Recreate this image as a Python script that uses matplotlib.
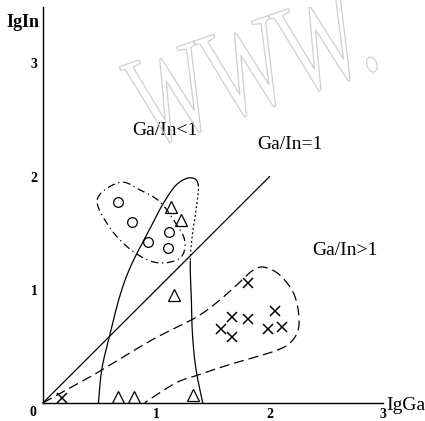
import numpy as np
import matplotlib
matplotlib.use("Agg")
import matplotlib.pyplot as plt
from matplotlib.textpath import TextPath
from matplotlib.path import Path
from matplotlib.patches import PathPatch
from matplotlib.font_manager import FontProperties
from matplotlib.transforms import Affine2D

# ── data (lgGa, lgIn) ─────────────────────────────────────────────────────────
circle_x = [0.66, 0.79, 0.93, 1.11, 1.10]
circle_y = [1.78, 1.60, 1.42, 1.51, 1.37]

tri_x = [1.13, 1.22, 1.16, 0.66, 0.80, 1.32]
tri_y = [1.73, 1.62, 0.95, 0.05, 0.05, 0.07]

cross_x = [1.81, 1.67, 1.81, 2.05, 1.57, 1.67, 1.99, 2.11, 0.17]
cross_y = [1.06, 0.76, 0.74, 0.81, 0.65, 0.58, 0.65, 0.67, 0.04]

ratio_line_x = [0, 2]          # Ga/In = 1
ratio_line_y = [0, 2]

# outline of the circle group (dash-dot loop)
circle_env = [(0.48, 1.80), (0.68, 1.95), (0.86, 1.88), (1.03, 1.78), (1.15, 1.62),
              (1.25, 1.44), (1.21, 1.28), (1.00, 1.24), (0.78, 1.35), (0.59, 1.55)]

# outline of the triangle group (horn rising from the lgGa axis)
tri_env = [(0.49, 0.00), (0.52, 0.30), (0.59, 0.60), (0.68, 0.95), (0.78, 1.22),
           (0.94, 1.53), (1.06, 1.76), (1.18, 1.93), (1.30, 1.99), (1.37, 1.93),
           (1.35, 1.70), (1.32, 1.50), (1.30, 1.25), (1.31, 0.90), (1.32, 0.60),
           (1.35, 0.30), (1.41, 0.00)]

# outline of the cross group (dashed tongue)
cross_env = [(0.00, 0.00), (0.45, 0.25), (0.95, 0.55), (1.34, 0.75), (1.55, 0.90),
             (1.74, 1.07), (1.85, 1.17), (1.95, 1.20), (2.09, 1.13), (2.22, 0.95),
             (2.26, 0.70), (2.20, 0.55), (2.05, 0.46), (1.65, 0.34), (1.38, 0.25),
             (1.18, 0.18), (0.94, 0.03), (0.90, 0.00)]

ticks = [1, 2, 3]


def smooth(pts, n=16, closed=False):
    """Catmull-Rom through the outline points."""
    p = np.asarray(pts, float)
    if closed:
        P = np.vstack([p[-1], p, p[0], p[1]])
    else:
        P = np.vstack([p[0], p, p[-1]])
    t = np.linspace(0, 1, n, endpoint=False)[:, None]
    out = []
    for i in range(1, len(P) - 2):
        p0, p1, p2, p3 = P[i - 1], P[i], P[i + 1], P[i + 2]
        out.append(0.5 * (2 * p1 + (-p0 + p2) * t
                          + (2 * p0 - 5 * p1 + 4 * p2 - p3) * t ** 2
                          + (-p0 + 3 * p1 - 3 * p2 + p3) * t ** 3))
    out.append(P[-2][None])
    return np.vstack(out)


SERIF = "Liberation Serif"
fig = plt.figure(figsize=(4.25, 4.21), dpi=100)
ax = fig.add_axes([0.101, 0.043, 0.80, 0.9406])
ax.set_facecolor("none")
ax.set_xlim(0, 3)
ax.set_ylim(0, 3.5)

# watermark: tall, narrow outlined "WWW." tilted up to the right (pixel coords)
tp = TextPath((0, 0), "WWW.", size=1, prop=FontProperties(family=SERIF))
v = tp.vertices.copy()
v = (v - v.min(axis=0)) / (v[:, 1].max() - v[:, 1].min())   # unit cap height
wm = PathPatch(Path(v, tp.codes), facecolor="none", edgecolor="#cfcfcf", lw=0.9,
               transform=Affine2D().scale(56, 88).rotate_deg(19).translate(148, 421 - 150))
fig.add_artist(wm)

kw = dict(color="black", lw=0.9, clip_on=False)
ax.plot(ratio_line_x, ratio_line_y, **kw)

e = smooth(circle_env, closed=True)
ax.plot(e[:, 0], e[:, 1], ls=(0, (6, 3, 1, 3)), **kw)

h = smooth(tri_env)
n = 16
ax.plot(h[:9 * n + 1, 0], h[:9 * n + 1, 1], **kw)
ax.plot(h[9 * n:12 * n + 1, 0], h[9 * n:12 * n + 1, 1], ls=(0, (1.5, 2)), **kw)
ax.plot(h[12 * n:, 0], h[12 * n:, 1], **kw)

c = smooth(cross_env)
ax.plot(c[:, 0], c[:, 1], ls=(0, (8, 4)), **kw)

ax.plot(circle_x, circle_y, "o", mfc="none", mec="black", ms=7, mew=0.9)
ax.plot(tri_x, tri_y, "^", mfc="none", mec="black", ms=8, mew=0.9)
ax.plot(cross_x, cross_y, "x", color="black", ms=7, mew=1.1)

for s in ["top", "right"]:
    ax.spines[s].set_visible(False)
for s in ["left", "bottom"]:
    ax.spines[s].set_linewidth(1.0)

ax.set_xticks(ticks)
ax.set_yticks(ticks)
ax.set_xticklabels([str(t) for t in ticks], fontfamily=SERIF, fontweight="bold", fontsize=10)
ax.set_yticklabels([str(t) for t in ticks], fontfamily=SERIF, fontweight="bold", fontsize=10)
ax.tick_params(length=0, pad=4)
ax.text(-0.06, -0.03, "0", ha="right", va="top", fontfamily=SERIF, fontweight="bold", fontsize=10)

ax.text(-0.32, 3.36, "IgIn", ha="left", va="center", fontfamily=SERIF, fontweight="bold", fontsize=13)
ax.text(3.03, -0.02, "IgGa", ha="left", va="center", fontfamily=SERIF, fontsize=14)

ax.text(0.79, 2.41, "Ga/In<1", ha="left", va="center", fontfamily=SERIF, fontsize=14)
ax.text(1.89, 2.28, "Ga/In=1", ha="left", va="center", fontfamily=SERIF, fontsize=14)
ax.text(2.38, 1.35, "Ga/In>1", ha="left", va="center", fontfamily=SERIF, fontsize=14)

fig.savefig("out.png", dpi=100)
